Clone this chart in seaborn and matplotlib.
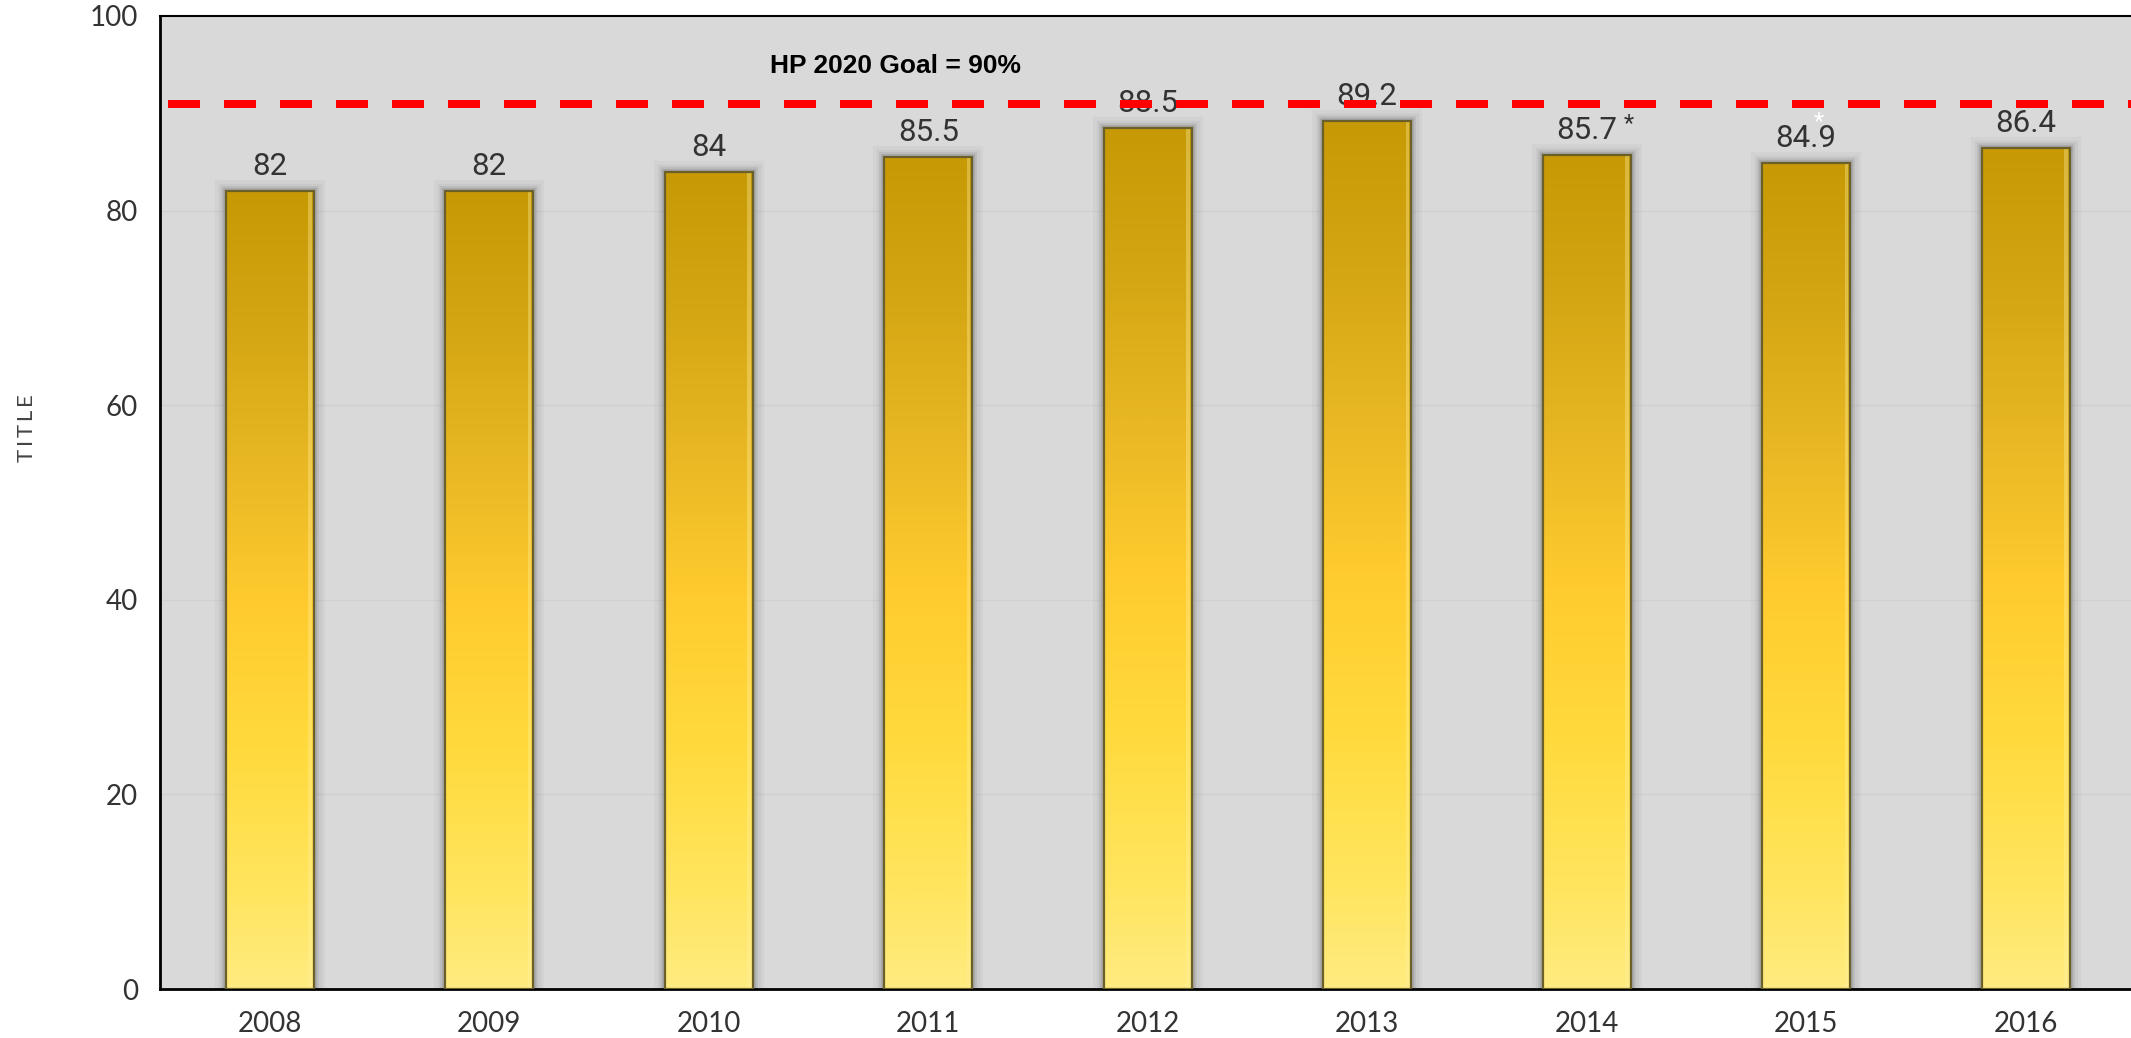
import numpy as np
import pandas as pd
import matplotlib
matplotlib.use("Agg")
import matplotlib.pyplot as plt
import matplotlib.patheffects as pe
from matplotlib.colors import LinearSegmentedColormap
from matplotlib.patches import Rectangle
import seaborn as sns

# ---- data ----
years = ["2008", "2009", "2010", "2011", "2012", "2013", "2014", "2015", "2016"]
values = [82, 82, 84, 85.5, 88.5, 89.2, 85.7, 84.9, 86.4]
value_labels = ["82", "82", "84", "85.5", "88.5", "89.2", "85.7", "84.9", "86.4"]
marks = ["", "", "", "", "", "", "*", "*", ""]
mark_colors = ["", "", "", "", "", "", "#333333", "#ffffff", ""]
goal_line = 91
goal_text = "HP 2020 Goal = 90%"
y_ticks = [0, 20, 40, 60, 80, 100]
y_title = "T\u2009I\u2009T\u2009L\u2009E"

df = pd.DataFrame({"year": years, "value": values})

sns.set_theme(style="white")
plt.rcParams["font.family"] = ["Lato", "DejaVu Sans"]

W, H, DPI = 2131, 1038, 100
fig = plt.figure(figsize=(W / DPI, H / DPI), dpi=DPI)
ax = fig.add_axes([160 / W, 49 / H, (W - 160) / W, (989 - 16) / H])
ax.set_facecolor("#d9d9d9")

sns.barplot(data=df, x="year", y="value", width=0.40, ax=ax,
            color="#e0b020", saturation=1, zorder=3)

ax.set_xlim(-0.5, 8.48)
ax.set_ylim(0, 100)

# gradient fill, edges and soft shadow on each bar
cmap = LinearSegmentedColormap.from_list(
    "gold",
    [(0.0, "#ffeb80"), (0.12, "#ffe55e"), (0.30, "#ffda3c"), (0.48, "#ffcb2e"),
     (0.65, "#e9b824"), (0.82, "#d6a714"), (1.0, "#c69905")])
grad = np.linspace(0, 1, 256).reshape(-1, 1)
for bar in ax.patches:
    x0, w, h = bar.get_x(), bar.get_width(), bar.get_height()
    sh = Rectangle((x0, 0), w, h, facecolor="#9a9a9a", edgecolor="#9a9a9a",
                   lw=0, zorder=2)
    sh.set_path_effects([
        pe.Stroke(linewidth=16, foreground="#8a8a8a", alpha=0.08),
        pe.Stroke(linewidth=11, foreground="#8a8a8a", alpha=0.12),
        pe.Stroke(linewidth=7, foreground="#7a7a7a", alpha=0.18),
        pe.Stroke(linewidth=4, foreground="#6a6a6a", alpha=0.25),
        pe.Normal()])
    ax.add_patch(sh)
    im = ax.imshow(grad, cmap=cmap, origin="lower", aspect="auto",
                   extent=(x0, x0 + w, 0, h), zorder=3.5, interpolation="bicubic")
    im.set_clip_path(bar)
    bar.set_facecolor("none")
    bar.set_edgecolor("#6b5f2a")
    bar.set_linewidth(1.6)
    bar.set_zorder(4)
    hl = Rectangle((x0 + w * 0.94, 0), w * 0.04, h, facecolor="#fff2a0",
                   alpha=0.35, lw=0, zorder=3.8)
    ax.add_patch(hl)
ax.set_xlim(-0.5, 8.48)

# gridlines
for yv in y_ticks[1:-1]:
    ax.axhline(yv, color="#d0d0d0", lw=1, zorder=1)

# value labels
lab_font = ["Roboto", "DejaVu Sans"]
for i, (v, lab) in enumerate(zip(values, value_labels)):
    ax.annotate(lab, (i, v), xytext=(0, 11.5), textcoords="offset points",
                ha="center", va="baseline", fontsize=22.5, color="#333333",
                family=lab_font, fontweight="normal", zorder=5)
    if marks[i]:
        white = mark_colors[i] == "#ffffff"
        off = (9, 30) if white else (30, 23)
        ax.annotate(marks[i], (i, v), xytext=off, textcoords="offset points",
                    ha="center", va="center", fontsize=17, color=mark_colors[i],
                    family=lab_font, fontweight="normal", zorder=5.5)

# goal line and text
ax.axhline(goal_line, color="#ff0000", lw=5.76, linestyle=(6, (4, 3)), zorder=6)
ax.text(2.85, 94.9, goal_text, ha="center", va="center", fontsize=19,
        fontweight="bold", family=["Liberation Sans", "DejaVu Sans"],
        color="black", zorder=7)

# axes styling
for s in ["left", "bottom", "top"]:
    ax.spines[s].set_visible(True)
    ax.spines[s].set_color("black")
ax.spines["left"].set_linewidth(2)
ax.spines["bottom"].set_linewidth(2)
ax.spines["top"].set_linewidth(1.5)
ax.spines["right"].set_visible(False)

ax.set_yticks(y_ticks)
ax.set_yticklabels([str(t) for t in y_ticks])
ax.tick_params(axis="y", direction="inout", length=11.5, width=2, color="black",
               pad=10, labelsize=20, labelcolor="#333333")
ax.tick_params(axis="x", length=0, pad=16, labelsize=20, labelcolor="#333333")
for t in ax.get_yticklabels() + ax.get_xticklabels():
    t.set_fontweight("normal")
ax.set_xlabel("")
ax.set_ylabel("")
ax.grid(False)

fig.text(27 / W, 1 - 428 / H, y_title, rotation=90, ha="center", va="center",
         fontsize=16, color="#444444", fontweight="normal")

fig.savefig("out.png", dpi=DPI)
